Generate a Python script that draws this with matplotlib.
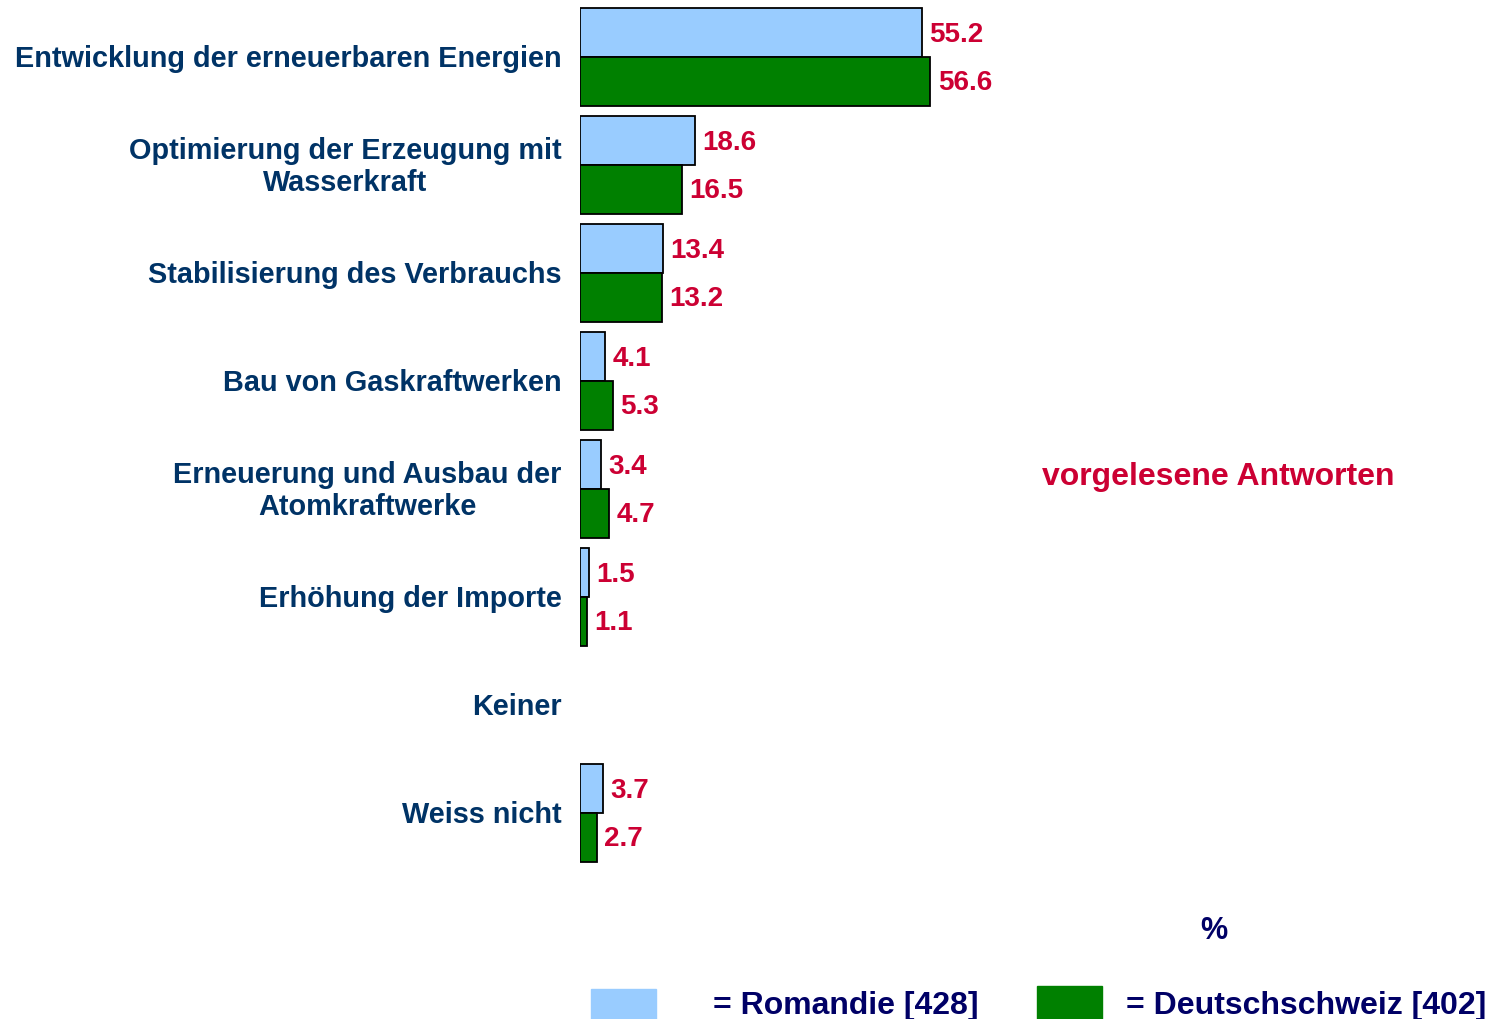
import matplotlib.pyplot as plt
from matplotlib.patches import Rectangle

categories = ["Entwicklung der erneuerbaren Energien",
              "Optimierung der Erzeugung mit\nWasserkraft",
              "Stabilisierung des Verbrauchs",
              "Bau von Gaskraftwerken",
              "Erneuerung und Ausbau der\nAtomkraftwerke",
              "Erhöhung der Importe",
              "Keiner",
              "Weiss nicht"]
romandie = [55.2, 18.6, 13.4, 4.1, 3.4, 1.5, None, 3.7]
deutschschweiz = [56.6, 16.5, 13.2, 5.3, 4.7, 1.1, None, 2.7]

label_col = "#003366"
value_col = "#CC0033"
blue = "#99CCFF"
green = "#008000"

plt.rcParams['font.family'] = ['Liberation Sans', 'DejaVu Sans']
plt.rcParams['font.weight'] = 'bold'

W, H = 1503, 1019
fig = plt.figure(figsize=(W / 100, H / 100), dpi=100)
ax = fig.add_axes([580 / W, 1 - 870 / H, 900 / W, 870 / H])
ax.set_xlim(0, 900 / 6.19)
ax.set_ylim(7 + 57 / 108, -57 / 108)
ax.axis("off")

bh = 0.45
for i, cat in enumerate(categories):
    ax.text(-3, i + 0.02, cat, ha="right", va="center", color=label_col,
            fontsize=20.8, fontweight="bold", multialignment="center",
            linespacing=1.2)
    r = romandie[i]
    d = deutschschweiz[i]
    if r is not None:
        ax.barh(i - bh / 2, r, height=bh, color=blue, edgecolor="black", linewidth=1.3)
        ax.text(r + 1.2, i - bh / 2 + 0.02, f"{r:.1f}", ha="left", va="center",
                color=value_col, fontsize=20, fontweight="bold")
    if d is not None:
        ax.barh(i + bh / 2, d, height=bh, color=green, edgecolor="black", linewidth=1.3)
        ax.text(d + 1.2, i + bh / 2 + 0.02, f"{d:.1f}", ha="left", va="center",
                color=value_col, fontsize=20, fontweight="bold")

fig.text(1218 / W, 1 - 477 / H, "vorgelesene Antworten", ha="center", va="center",
         color=value_col, fontsize=23, fontweight="bold")
fig.text(1214 / W, 1 - 931 / H, "%", ha="center", va="center",
         color="#000066", fontsize=22, fontweight="bold")

# legend
fig.patches.append(Rectangle((591 / W, 1 - 1019 / H), 65 / W, 30 / H,
                             transform=fig.transFigure, color=blue))
fig.patches.append(Rectangle((1037 / W, 1 - 1019 / H), 65 / W, 33 / H,
                             transform=fig.transFigure, color=green))
fig.text(713 / W, 1 - 1006 / H, "= Romandie [428]", ha="left", va="center",
         color="#000066", fontsize=23, fontweight="bold")
fig.text(1126 / W, 1 - 1006 / H, "= Deutschschweiz [402]", ha="left", va="center",
         color="#000066", fontsize=23, fontweight="bold")

fig.savefig("out.png", dpi=100)
